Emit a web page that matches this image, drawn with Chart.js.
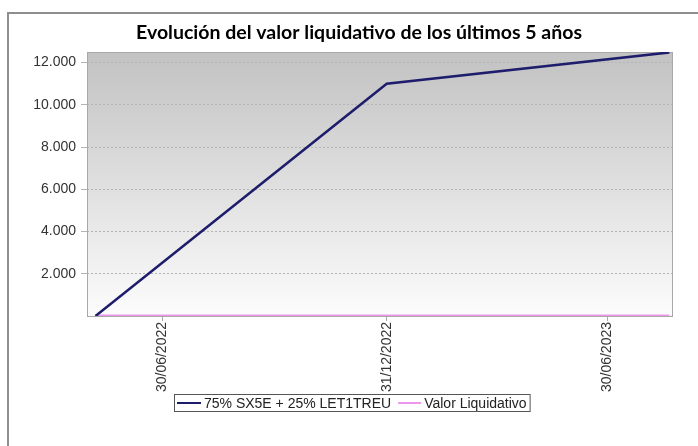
<!DOCTYPE html>
<html>
<head>
<meta charset="utf-8">
<script src="https://cdn.jsdelivr.net/npm/chart.js@4.4.1/dist/chart.umd.min.js"></script>
<style>
    html, body { margin: 0; padding: 0; background: #fff; }
    #wrap { position: relative; width: 698px; height: 446px; }
    #frame { position: absolute; left: 7px; top: 12px; width: 700px; height: 440px;
             border-top: 2px solid #8e8e8e; border-left: 2px solid #8e8e8e; }
    #chart { position: absolute; left: 0; top: 0; }
</style>
</head>
<body>
<div id="wrap">
    <div id="frame"></div>
    <canvas id="chart" width="698" height="446"></canvas>
</div>
<script>
// chart data
const titleText = "Evolución del valor liquidativo de los últimos 5 años";
const seriesNames = ["75% SX5E + 25% LET1TREU", "Valor Liquidativo"];
const pointDates = ["06/05/2022", "31/12/2022", "20/08/2023"];
const indexValues = [0, 11000, 12480];
const navValues = [20, 20, 20];
const xTickDates = ["30/06/2022", "31/12/2022", "30/06/2023"];
const xRangeDates = ["29/04/2022", "23/08/2023"];
const yTicks = [2000, 4000, 6000, 8000, 10000, 12000];
const yMax = 12500;

const navyColor = "#1d1d6c";
const pinkColor = "#ee96ee";

function dayNum(s) {
    const p = s.split("/");
    return Date.UTC(+p[2], +p[1] - 1, +p[0]) / 86400000;
}

function fmtThousands(v) {
    return String(v).replace(/\B(?=(\d{3})+(?!\d))/g, ".");
}

const xTickValues = xTickDates.map(dayNum);

// plot background, border, title and legend box
const decorPlugin = {
    id: "decor",
    beforeDraw(chart) {
        const ctx = chart.ctx;
        const a = chart.chartArea;
        const g = ctx.createLinearGradient(0, a.top, 0, a.bottom);
        g.addColorStop(0, "#c2c2c2");
        g.addColorStop(1, "#fcfcfc");
        ctx.save();
        ctx.fillStyle = g;
        ctx.fillRect(a.left, a.top, a.right - a.left, a.bottom - a.top);
        ctx.restore();
    },
    beforeDatasetsDraw(chart) {
        const ctx = chart.ctx;
        const a = chart.chartArea;
        ctx.save();
        ctx.strokeStyle = "#a8a8a8";
        ctx.lineWidth = 1;
        ctx.strokeRect(a.left + 0.5, a.top + 0.5, a.right - a.left - 1, a.bottom - a.top);
        ctx.restore();
    },
    afterDraw(chart) {
        const ctx = chart.ctx;
        ctx.save();
        // title
        ctx.font = "bold 19.5px Lato";
        ctx.fillStyle = "#000";
        ctx.textAlign = "center";
        ctx.textBaseline = "middle";
        ctx.fillText(titleText, 359, 33);

        // legend
        ctx.font = "14px 'Liberation Sans', Arial";
        ctx.textAlign = "left";
        const colors = [navyColor, pinkColor];
        const w1 = ctx.measureText(seriesNames[0]).width;
        const w2 = ctx.measureText(seriesNames[1]).width;
        const boxW = 3 + 24 + 3 + w1 + 7 + 23 + 3 + w2 + 3;
        const boxL = Math.round(352 - boxW / 2);
        const boxT = 394, boxH = 17;
        ctx.fillStyle = "#fff";
        ctx.fillRect(boxL, boxT, boxW, boxH);
        ctx.strokeStyle = "#555";
        ctx.lineWidth = 1;
        ctx.strokeRect(boxL + 0.5, boxT + 0.5, boxW, boxH);
        let x = boxL + 3;
        const my = boxT + boxH / 2 + 0.5;
        [w1, w2].forEach((w, i) => {
            ctx.strokeStyle = colors[i];
            ctx.lineWidth = 2;
            ctx.beginPath();
            ctx.moveTo(x, my);
            ctx.lineTo(x + (i === 0 ? 24 : 23), my);
            ctx.stroke();
            x += (i === 0 ? 24 : 23) + 3;
            ctx.fillStyle = "#222";
            ctx.fillText(seriesNames[i], x, my + 1);
            x += w + 7;
        });
        ctx.restore();
    }
};

const ctx = document.getElementById("chart").getContext("2d");

new Chart(ctx, {
    type: "line",
    data: {
        datasets: [
            {
                label: seriesNames[0],
                data: pointDates.map((d, i) => ({ x: dayNum(d), y: indexValues[i] })),
                borderColor: navyColor,
                borderWidth: 2.5,
                pointRadius: 0,
                tension: 0,
                fill: false
            },
            {
                label: seriesNames[1],
                data: pointDates.map((d, i) => ({ x: dayNum(d), y: navValues[i] })),
                borderColor: pinkColor,
                borderWidth: 2,
                pointRadius: 0,
                tension: 0,
                fill: false
            }
        ]
    },
    options: {
        responsive: false,
        animation: false,
        layout: { padding: { left: 0, right: 25, top: 52, bottom: 0 } },
        plugins: {
            legend: { display: false },
            title: { display: false },
            tooltip: { enabled: false }
        },
        scales: {
            x: {
                type: "linear",
                min: dayNum(xRangeDates[0]),
                max: dayNum(xRangeDates[1]),
                afterBuildTicks(scale) {
                    scale.ticks = xTickValues.map(v => ({ value: v }));
                },
                afterFit(scale) { scale.height = 130; },
                border: { display: false },
                grid: { drawOnChartArea: false, drawTicks: true, tickLength: 5, color: "#a8a8a8" },
                ticks: {
                    autoSkip: false,
                    minRotation: 90,
                    maxRotation: 90,
                    padding: 1,
                    color: "#333",
                    font: { family: "'Liberation Sans', Arial", size: 14 },
                    callback: (v, i) => xTickDates[i]
                }
            },
            y: {
                min: 0,
                max: yMax,
                afterBuildTicks(scale) {
                    scale.ticks = yTicks.map(v => ({ value: v }));
                },
                afterFit(scale) { scale.width = 87; },
                border: { display: false, dash: [2, 2] },
                grid: { color: "#b4b4b4", tickLength: 6 },
                ticks: {
                    padding: 5,
                    color: "#333",
                    font: { family: "'Liberation Sans', Arial", size: 14 },
                    callback: v => fmtThousands(v)
                }
            }
        }
    },
    plugins: [decorPlugin]
});
</script>
</body>
</html>
